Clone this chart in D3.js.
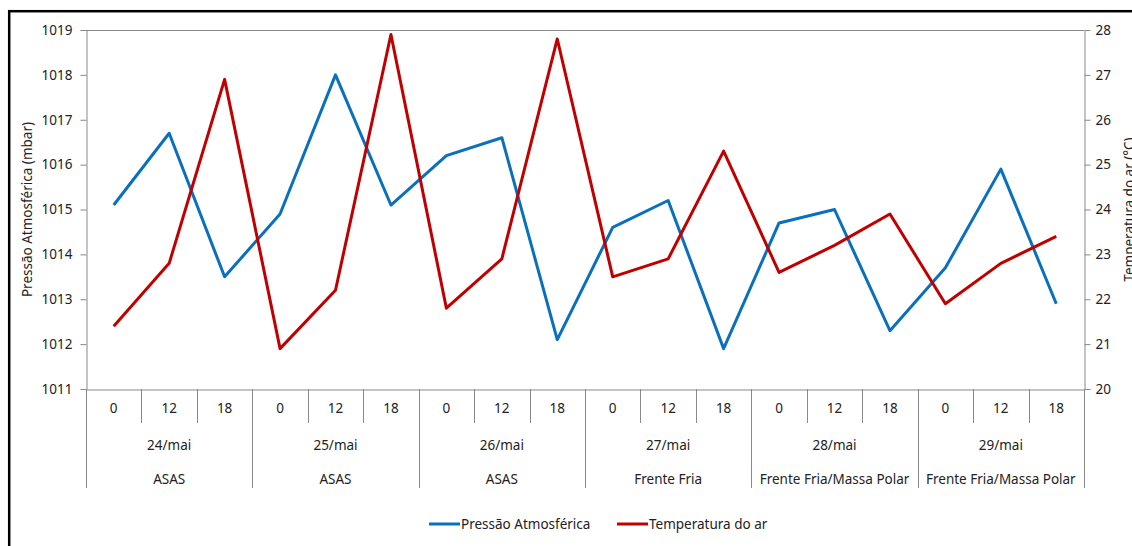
<!DOCTYPE html>
<html>
<head>
<meta charset="utf-8">
<script src="https://cdn.jsdelivr.net/npm/d3@7"></script>
<style>
  body { margin: 0; background: #fff; }
  svg { display: block; font-family: "Noto Sans", sans-serif; }
</style>
</head>
<body>
<div id="chart"></div>
<script>
// data
const hours = ["0", "12", "18"];
const days = ["24/mai", "25/mai", "26/mai", "27/mai", "28/mai", "29/mai"];
const systems = ["ASAS", "ASAS", "ASAS", "Frente Fria", "Frente Fria/Massa Polar", "Frente Fria/Massa Polar"];
const pressure = [1015.1, 1016.7, 1013.5, 1014.9, 1018.0, 1015.1, 1016.2, 1016.6, 1012.1,
                  1014.6, 1015.2, 1011.9, 1014.7, 1015.0, 1012.3, 1013.7, 1015.9, 1012.9];
const temperature = [21.4, 22.8, 26.9, 20.9, 22.2, 27.9, 21.8, 22.9, 27.8,
                     22.5, 22.9, 25.3, 22.6, 23.2, 23.9, 21.9, 22.8, 23.4];
const pressureTicks = [1011, 1012, 1013, 1014, 1015, 1016, 1017, 1018, 1019];
const tempTicks = [20, 21, 22, 23, 24, 25, 26, 27, 28];

const W = 1132, H = 546;
const plotLeft = 86, plotRight = 1084, plotTop = 30, plotBottom = 389;
const axisGray = "#898989";
const blue = "#0A70BE", red = "#C00000";

// one entry per observation
const obs = [];
days.forEach((d, di) => hours.forEach((h, hi) => {
  obs.push({ i: di * hours.length + hi, hour: h, day: d, sys: systems[di] });
}));

const svg = d3.select("#chart").append("svg")
  .attr("width", W)
  .attr("height", H);

// outer black frame (cut by the picture edges)
svg.append("rect")
  .attr("x", 9.2).attr("y", 11.2)
  .attr("width", 1300).attr("height", 700)
  .attr("fill", "none")
  .attr("stroke", "#000")
  .attr("stroke-width", 2.5);

const x = d3.scaleBand()
  .domain(obs.map(d => d.i))
  .range([plotLeft, plotRight])
  .padding(0);

const yP = d3.scaleLinear().domain([1011, 1019]).range([plotBottom, plotTop]);
const yT = d3.scaleLinear().domain([20, 28]).range([plotBottom, plotTop]);

// top border of the plot area
svg.append("line")
  .attr("x1", plotLeft).attr("x2", plotRight)
  .attr("y1", plotTop + 0.5).attr("y2", plotTop + 0.5)
  .attr("stroke", axisGray);

const styleAxis = g => {
  g.select(".domain").attr("stroke", axisGray);
  g.selectAll(".tick line").attr("stroke", axisGray);
  g.selectAll(".tick text")
    .attr("fill", "#222")
    .style("font-size", "13.5px")
    .style("font-family", "Noto Sans");
};

svg.append("g")
  .attr("transform", `translate(${plotLeft + 0.5},0)`)
  .call(d3.axisLeft(yP).tickValues(pressureTicks).tickFormat(d3.format("d"))
    .tickSize(6).tickSizeOuter(0).tickPadding(8))
  .call(styleAxis);

svg.append("g")
  .attr("transform", `translate(${plotRight + 0.5},0)`)
  .call(d3.axisRight(yT).tickValues(tempTicks).tickFormat(d3.format("d"))
    .tickSize(6).tickSizeOuter(0).tickPadding(5))
  .call(styleAxis);

// category axis: hour labels on the first row
const xAxis = svg.append("g")
  .attr("transform", `translate(0,${plotBottom + 0.5})`)
  .call(d3.axisBottom(x).tickSize(0).tickPadding(14)
    .tickFormat(i => obs[i].hour).tickSizeOuter(0))
  .call(styleAxis);
xAxis.selectAll(".tick text").attr("dy", "0.71em");

// separators between hours (short) and between days (long)
const seps = d3.range(obs.length + 1);
svg.append("g")
  .selectAll("line")
  .data(seps)
  .join("line")
  .attr("x1", i => Math.round(i < obs.length ? x(i) : plotRight) + 0.5)
  .attr("x2", i => Math.round(i < obs.length ? x(i) : plotRight) + 0.5)
  .attr("y1", plotBottom)
  .attr("y2", i => i % hours.length === 0 ? 488 : 423)
  .attr("stroke", axisGray);

const dayW = x.bandwidth() * hours.length;
const dayLabels = svg.append("g")
  .style("font-size", "13.5px")
  .attr("fill", "#222")
  .attr("text-anchor", "middle");

dayLabels.selectAll("text.day")
  .data(days)
  .join("text")
  .attr("class", "day")
  .attr("x", (d, di) => x(di * hours.length) + dayW / 2)
  .attr("y", 450)
  .text(d => d);

dayLabels.selectAll("text.sys")
  .data(systems)
  .join("text")
  .attr("class", "sys")
  .attr("x", (d, di) => x(di * hours.length) + dayW / 2)
  .attr("y", 484)
  .text(d => d);

// series lines
const lineP = d3.line()
  .x((d, i) => x(i) + x.bandwidth() / 2)
  .y(d => yP(d));
const lineT = d3.line()
  .x((d, i) => x(i) + x.bandwidth() / 2)
  .y(d => yT(d));

svg.append("path")
  .datum(pressure)
  .attr("d", lineP)
  .attr("fill", "none")
  .attr("stroke", blue)
  .attr("stroke-width", 3)
  .attr("stroke-linejoin", "round");

svg.append("path")
  .datum(temperature)
  .attr("d", lineT)
  .attr("fill", "none")
  .attr("stroke", red)
  .attr("stroke-width", 3)
  .attr("stroke-linejoin", "round");

// axis titles
svg.append("text")
  .attr("transform", `translate(32,${(plotTop + plotBottom) / 2}) rotate(-90)`)
  .attr("text-anchor", "middle")
  .attr("fill", "#222")
  .style("font-size", "13.5px")
  .text("Pressão Atmosférica (mbar)");

svg.append("text")
  .attr("transform", `translate(1134,${(plotTop + plotBottom) / 2}) rotate(-90)`)
  .attr("text-anchor", "middle")
  .attr("fill", "#222")
  .style("font-size", "13.5px")
  .text("Temperatura do ar (°C)");

// legend
const legendItems = [
  { name: "Pressão Atmosférica", color: blue, x: 429 },
  { name: "Temperatura do ar", color: red, x: 617 }
];
const legend = svg.append("g").attr("transform", "translate(0,524)");
const li = legend.selectAll("g").data(legendItems).join("g")
  .attr("transform", d => `translate(${d.x},0)`);
li.append("line")
  .attr("x1", 0).attr("x2", 31)
  .attr("stroke", d => d.color)
  .attr("stroke-width", 3);
li.append("text")
  .attr("x", 32)
  .attr("dy", "0.35em")
  .attr("fill", "#222")
  .style("font-size", "13.5px")
  .text(d => d.name);
</script>
</body>
</html>
